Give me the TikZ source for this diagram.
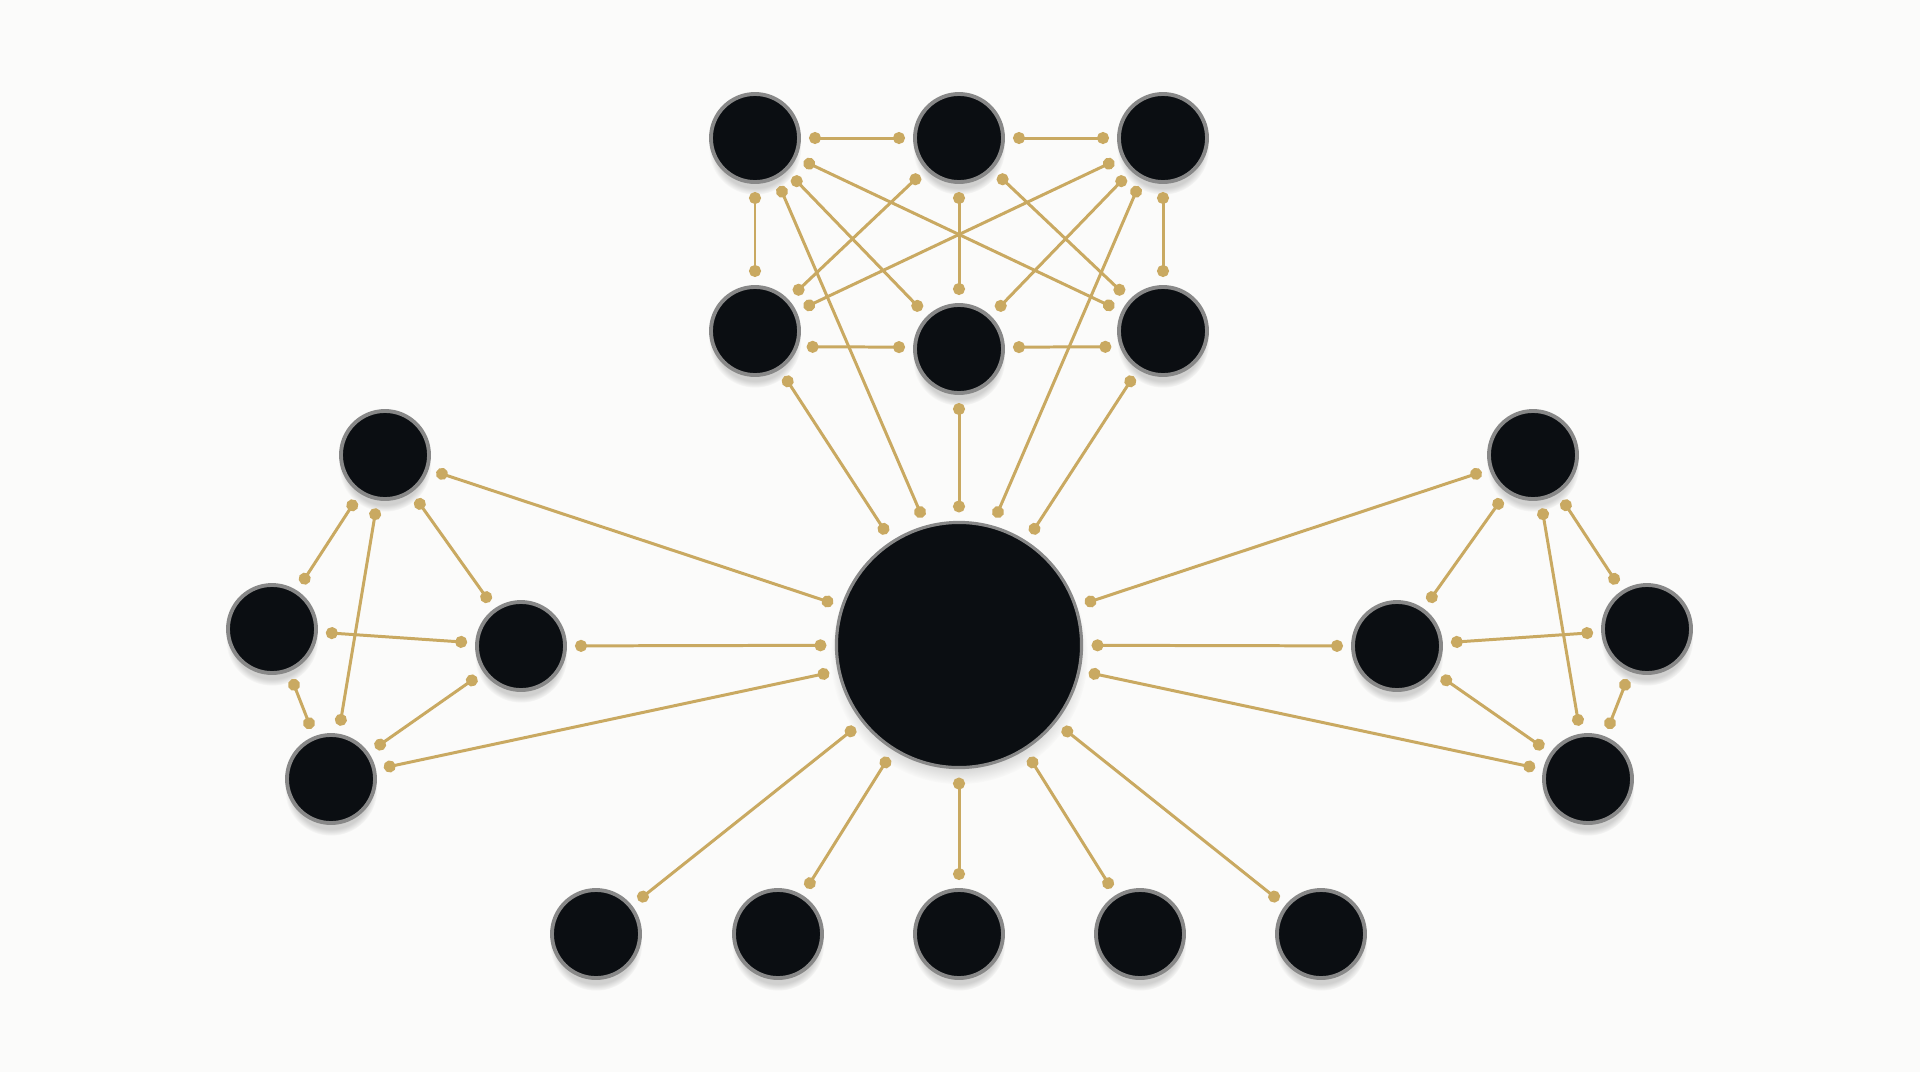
\documentclass[tikz,border=0pt]{standalone}
\usepackage{tikz}
\usetikzlibrary{arrows.meta, shadows}

\definecolor{gold}{HTML}{C9A961}
\definecolor{ink}{HTML}{0B0E12}
\definecolor{rim}{HTML}{888888}
\definecolor{paper}{HTML}{FBFBFA}

\begin{document}
\begin{tikzpicture}[x=0.01cm, y=-0.01cm,
  unit/.style={circle, fill=ink, draw=rim, line width=1.1pt, minimum size=8.8mm,
    inner sep=0pt, outer sep=1mm,
    circular drop shadow={shadow xshift=0mm, shadow yshift=-1mm, shadow scale=1.05, opacity=0.35}},
  hub/.style={unit, line width=0.9pt, minimum size=24.5mm},
  link/.style={draw=gold, line width=0.85pt, arrows={Circle[length=3.4pt]-Circle[length=3.4pt]}}]
\fill[paper] (0,0) rectangle (1920,1072);

% top cluster
\node[unit] (t1) at (755,138) {};
\node[unit] (t2) at (959,138) {};
\node[unit] (t3) at (1163,138) {};
\node[unit] (m1) at (755,331) {};
\node[unit] (m2) at (959,349) {};
\node[unit] (m3) at (1163,331) {};

% centre
\node[hub] (hub) at (959,645) {};

% left cluster
\node[unit] (lt) at (385,455) {};
\node[unit] (ll) at (272,629) {};
\node[unit] (lr) at (521,646) {};
\node[unit] (lb) at (331,779) {};

% right cluster
\node[unit] (rt) at (1533,455) {};
\node[unit] (rr) at (1647,629) {};
\node[unit] (rl) at (1397,646) {};
\node[unit] (rb) at (1588,779) {};

% bottom row
\node[unit] (b1) at (596,934) {};
\node[unit] (b2) at (778,934) {};
\node[unit] (b3) at (959,934) {};
\node[unit] (b4) at (1140,934) {};
\node[unit] (b5) at (1321,934) {};

% top cluster links
\draw[link] (t1) -- (t2);
\draw[link] (t2) -- (t3);
\draw[link] (t1) -- (m1);
\draw[link] (t2) -- (m2);
\draw[link] (t3) -- (m3);
\draw[link] (t1) -- (m2);
\draw[link] (t1) -- (m3);
\draw[link] (t2) -- (m1);
\draw[link] (t2) -- (m3);
\draw[link] (t3) -- (m1);
\draw[link] (t3) -- (m2);
\draw[link] (m1.-17) -- (m2.178);
\draw[link] (m2.2) -- (m3.-163);

% left cluster links
\draw[link] (lt) -- (ll);
\draw[link] (lt) -- (lb);
\draw[link] (lt) -- (lr);
\draw[link] (ll) -- (lr);
\draw[link] (ll) -- (lb);
\draw[link] (lr) -- (lb);

% right cluster links
\draw[link] (rt) -- (rl);
\draw[link] (rt) -- (rb);
\draw[link] (rt) -- (rr);
\draw[link] (rl) -- (rr);
\draw[link] (rl) -- (rb);
\draw[link] (rr) -- (rb);

% links to the centre
\draw[link] (m1) -- (hub);
\draw[link] (t1.-63) -- (hub.106);
\draw[link] (m2) -- (hub);
\draw[link] (t3.-117) -- (hub.74);
\draw[link] (m3) -- (hub);
\draw[link] (lt) -- (hub);
\draw[link] (lr) -- (hub);
\draw[link] (lb) -- (hub);
\draw[link] (rt) -- (hub);
\draw[link] (rl) -- (hub);
\draw[link] (rb) -- (hub);
\draw[link] (hub) -- (b1);
\draw[link] (hub) -- (b2);
\draw[link] (hub) -- (b3);
\draw[link] (hub) -- (b4);
\draw[link] (hub) -- (b5);
\end{tikzpicture}
\end{document}
